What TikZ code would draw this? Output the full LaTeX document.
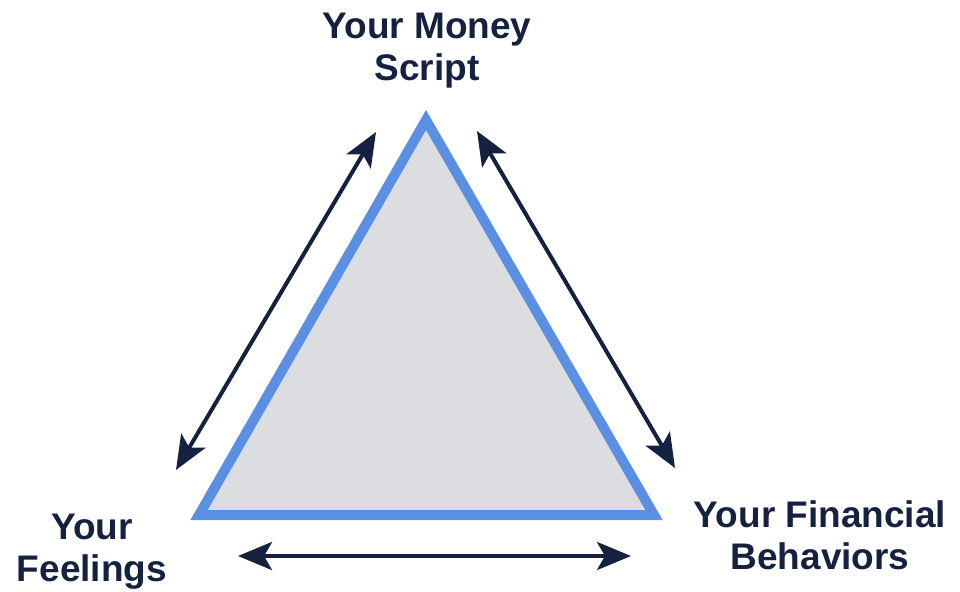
\documentclass[tikz,border=0pt]{standalone}
\usepackage{fontspec}
\setmainfont{Liberation Sans}
\usetikzlibrary{arrows.meta}
\definecolor{navy}{HTML}{14223F}
\definecolor{triblue}{HTML}{5B8FE4}
\definecolor{trigray}{HTML}{DCDDE0}
\tikzset{
  lbl/.style={font=\fontsize{37}{42}\selectfont\bfseries, text=navy, inner sep=0pt, anchor=base},
  biarrow/.style={draw=navy, line width=4pt, {Stealth[length=34pt,width=28pt,inset=8pt]}-{Stealth[length=34pt,width=28pt,inset=8pt]}}
}
\begin{document}
\begin{tikzpicture}[x=1pt,y=-1pt]
\useasboundingbox[fill=white] (0,0) rectangle (960,591);
% triangle vertices
\coordinate (A) at (426,120);
\coordinate (B) at (199,515);
\coordinate (C) at (654,515);
\draw[fill=trigray, draw=triblue, line width=10pt, line join=miter] (A) -- (B) -- (C) -- cycle;
% arrow endpoints
\coordinate (l1) at (176,470);
\coordinate (l2) at (376,132);
\coordinate (r1) at (477,131);
\coordinate (r2) at (675,468);
\coordinate (b1) at (238,556);
\coordinate (b2) at (631,556);
\draw[biarrow] (l1) -- (l2);
\draw[biarrow] (r1) -- (r2);
\draw[biarrow] (b1) -- (b2);
% labels
\node[lbl] (t1) at (427,39) {Your Money};
\node[lbl] (t2) at (427,81) {Script};
\node[lbl] (f1) at (92,539) {Your};
\node[lbl] (f2) at (92,581) {Feelings};
\node[lbl] (fb1) at (820,527) {Your Financial};
\node[lbl] (fb2) at (820,569) {Behaviors};
\end{tikzpicture}
\end{document}
